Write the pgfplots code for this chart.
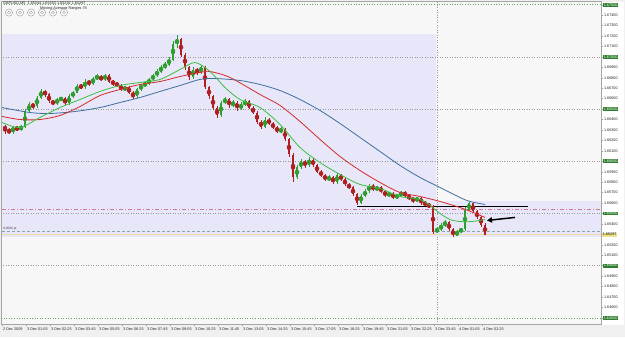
\documentclass[border=0pt]{standalone}
\usepackage{pgfplots}
\pgfplotsset{compat=1.18}
\usepackage{pgfplotstable}
\usepackage{fontspec}
\setmainfont{Liberation Sans}
\usetikzlibrary{arrows.meta}
\definecolor{bull}{HTML}{2E9E2E}
\definecolor{bear}{HTML}{B02020}
\definecolor{maG}{HTML}{3DBE3D}
\definecolor{maR}{HTML}{D42A2A}
\definecolor{maB}{HTML}{3E6E9E}
\definecolor{lav}{HTML}{E7E7F9}
\definecolor{chartbg}{HTML}{F7F7F7}
\definecolor{lblgreen}{HTML}{2F7D2F}
\definecolor{pinkline}{HTML}{D07A96}
\definecolor{tealline}{HTML}{8AA8A8}
\definecolor{bidline}{HTML}{E9DCA6}

% candles: x position, open, high, low, close (price in pips above 1.6000)
\pgfplotstableread{
x o h l c
5 633.3 635.0 626.0 630.5
9 630.5 631.5 625.8 627.6
13 627.6 634.0 626.5 632.4
17 632.4 633.5 629.0 630.5
21 630.5 635.0 629.0 633.3
25 633.3 650.0 632.0 647.7
29 647.7 656.5 646.0 654.4
33 654.4 656.0 650.5 652.5
37 652.5 663.0 651.5 661.1
41 661.1 669.0 660.0 666.9
45 666.9 668.5 662.0 664.0
49 664.0 665.0 655.5 657.3
53 657.3 659.0 653.5 655.4
57 655.4 661.0 654.0 659.2
61 659.2 662.0 657.5 660.2
65 660.2 661.5 653.5 655.4
69 655.4 664.0 654.0 662.1
73 662.1 667.5 661.0 665.9
77 665.9 674.5 665.0 672.6
81 672.6 674.0 669.0 670.7
85 670.7 678.5 669.5 676.4
89 676.4 678.0 672.5 674.5
93 674.5 681.0 673.5 679.3
97 679.3 683.5 678.0 681.2
101 681.2 682.5 676.5 678.4
105 678.4 684.0 677.0 682.2
109 682.2 683.5 675.0 676.4
113 676.4 678.0 672.5 674.5
117 674.5 676.0 671.0 672.6
121 672.6 674.0 667.0 668.8
125 668.8 672.5 667.0 670.7
129 670.7 672.0 664.0 665.9
133 665.9 667.0 659.5 662.1
137 662.1 670.5 661.0 668.8
141 668.8 674.5 667.5 672.6
145 672.6 676.5 671.0 674.5
149 674.5 680.0 673.0 678.4
153 678.4 684.0 677.0 682.2
157 682.2 688.0 681.0 686.0
161 686.0 692.0 685.0 689.9
165 689.9 695.0 688.5 692.7
169 692.7 700.0 691.5 697.5
173 697.5 715.0 696.5 711.9
177 711.9 721.0 709.0 716.7
181 716.7 718.0 700.0 702.3
185 702.3 704.0 687.5 689.9
189 689.9 691.0 678.0 680.3
193 680.3 690.0 679.0 687.9
197 687.9 689.5 683.0 685.1
201 685.1 692.5 683.5 689.9
205 689.9 691.0 669.0 670.7
209 670.7 672.0 660.0 662.1
213 662.1 663.5 649.0 651.5
217 651.5 653.0 641.0 643.9
221 643.9 658.0 642.5 656.3
225 656.3 661.5 655.0 659.2
229 659.2 660.5 651.5 653.5
233 653.5 658.5 652.0 656.3
237 656.3 657.5 648.5 650.6
241 650.6 656.5 649.0 654.4
245 654.4 659.5 653.0 657.3
249 657.3 658.5 650.0 651.5
253 651.5 653.0 645.0 646.7
257 646.7 648.0 636.0 638.1
261 638.1 639.5 631.0 633.3
265 633.3 642.0 632.0 640.0
269 640.0 641.5 634.5 636.2
273 636.2 637.5 630.5 632.4
277 632.4 634.0 627.0 628.5
281 628.5 632.5 627.0 630.5
285 630.5 632.0 619.0 620.9
289 620.9 622.0 604.0 606.5
293 606.5 608.0 580.0 584.5
297 584.5 596.5 583.0 594.1
301 594.1 602.0 592.5 599.8
305 599.8 601.5 594.0 596.0
309 596.0 604.0 595.0 601.7
313 601.7 603.0 594.5 596.0
317 596.0 597.0 588.5 590.2
321 590.2 592.0 584.5 586.4
325 586.4 588.0 581.0 582.6
329 582.6 586.5 581.0 584.5
333 584.5 586.0 578.0 579.7
337 579.7 588.5 578.5 586.4
341 586.4 588.0 581.0 582.6
345 582.6 584.0 576.0 577.8
349 577.8 579.0 573.0 574.9
353 574.9 576.0 566.5 568.2
357 568.2 569.5 558.5 560.5
361 560.5 569.0 559.5 567.2
365 567.2 573.0 566.0 571.1
369 571.1 578.5 570.0 576.8
373 576.8 578.0 571.5 573.0
377 573.0 576.5 571.5 574.9
381 574.9 576.0 569.5 571.1
385 571.1 572.5 565.5 567.2
389 567.2 571.0 566.0 569.1
393 569.1 570.5 563.5 565.3
397 565.3 569.0 564.0 567.2
401 567.2 572.0 566.0 570.1
405 570.1 571.5 565.5 567.2
409 567.2 568.5 562.5 564.4
413 564.4 566.0 560.5 562.4
417 562.4 566.0 561.0 564.4
421 564.4 565.5 558.5 560.5
425 560.5 562.0 557.0 558.6
429 558.6 560.0 555.0 556.7
433 556.7 558.0 530.5 532.7
437 532.7 537.0 531.0 534.7
441 534.7 540.5 533.5 538.5
445 538.5 543.5 537.5 541.4
449 541.4 542.5 533.0 534.7
453 534.7 536.0 527.0 528.9
457 528.9 534.5 528.0 532.7
461 532.7 536.5 531.5 534.7
465 534.7 556.0 533.5 553.8
469 553.8 561.0 552.5 559.6
473 559.6 560.5 550.0 551.9
477 551.9 553.0 544.5 546.2
481 546.2 547.5 537.5 539.4
485 539.4 540.5 529.2 529.7
}\candles

\begin{document}
\begin{tikzpicture}[x=1bp,y=1bp]
\useasboundingbox (0,0) rectangle (625,337);
\fill[gray!12] (0,0) rectangle (625,337);
\fill[white] (601,12) rectangle (624,335);
\begin{axis}[
  at={(1,12)}, anchor=south west,
  scale only axis, width=600bp, height=323bp,
  xmin=1, xmax=601, ymin=443.65, ymax=753.1,
  axis background/.style={fill=chartbg},
  axis line style={draw=gray!70},
  clip mode=individual,
  /pgf/number format/assume math mode=true,
  tick align=outside,
  major tick length=2bp,
  every tick/.style={gray!70},
  xtick pos=bottom,
  ytick pos=right,
  yticklabel pos=right,
  xtick={2,26,...,482},
  xticklabels={2 Dec 2009, 3 Dec 01:05, 3 Dec 02:25, 3 Dec 03:45, 3 Dec 05:05, 3 Dec 06:25, 3 Dec 07:45, 3 Dec 09:05, 3 Dec 10:25, 3 Dec 11:45, 3 Dec 13:05, 3 Dec 14:25, 3 Dec 15:45, 3 Dec 17:05, 3 Dec 18:25, 3 Dec 19:45, 3 Dec 21:05, 3 Dec 22:25, 3 Dec 23:45, 4 Dec 01:05, 4 Dec 02:25},
  xticklabel style={anchor=north west, font=\fontsize{3.8}{4.5}\selectfont, text=gray!30!black, inner sep=0.8bp, xshift=0.2bp},
  ytick={460,470,480,490,510,520,540,560,570,580,590,610,620,630,640,660,670,680,690,710,720,730,740},
  yticklabel={1.6\pgfmathprintnumber[fixed,precision=0,1000 sep={}]{\tick}0},
  yticklabel style={font=\fontsize{3.8}{4.5}\selectfont, text=gray!30!black, inner sep=0.8bp},
  extra y ticks={450,500,550,600,650,700,750},
  extra y tick labels={1.64500,1.65000,1.65500,1.66000,1.66500,1.67000,1.67500},
  extra y tick style={yticklabel style={fill=lblgreen, text=white, inner sep=0.6bp, font=\fontsize{3.8}{4.5}\selectfont}},
]
% highlighted range boxes
\fill[lav] (axis cs:2,527) rectangle (axis cs:436,721.5);
\fill[lav] (axis cs:436,527) rectangle (axis cs:601,561.5);
% level lines
\pgfplotsinvokeforeach{500,550,600,650,700}{
  \draw[gray!80, dotted, line width=0.5bp] (axis cs:1,#1) -- (axis cs:601,#1);
}
\draw[lblgreen!70, dotted, line width=0.6bp] (axis cs:1,750) -- (axis cs:601,750);
\draw[lblgreen!70, dotted, line width=0.6bp] (axis cs:1,450) -- (axis cs:601,450);
\draw[gray!80, dotted, line width=0.5bp] (axis cs:437,443.65) -- (axis cs:437,753.1);
\draw[pinkline, line width=0.5bp, dash pattern=on 4bp off 2bp on 1bp off 2bp] (axis cs:2,553.8) -- (axis cs:601,553.8);
\draw[tealline, line width=0.5bp, dash pattern=on 3bp off 2bp] (axis cs:2,532.7) -- (axis cs:601,532.7);
\draw[bidline, line width=1.2bp] (axis cs:2,529.7) -- (axis cs:601,529.7);
\draw[black, line width=0.8bp] (axis cs:357,556.7) -- (axis cs:528,556.7);

% candle wicks
\addplot[bull, only marks, mark=none, forget plot,
  error bars/.cd, y dir=both, y explicit, error mark=none,
  error bar style={line width=0.5bp}]
  table[x=x, y expr={\thisrow{c}<\thisrow{o} ? nan : (\thisrow{h}+\thisrow{l})/2},
        y error expr={(\thisrow{h}-\thisrow{l})/2}]{\candles};
\addplot[bear, only marks, mark=none, forget plot,
  error bars/.cd, y dir=both, y explicit, error mark=none,
  error bar style={line width=0.5bp}]
  table[x=x, y expr={\thisrow{c}<\thisrow{o} ? (\thisrow{h}+\thisrow{l})/2 : nan},
        y error expr={(\thisrow{h}-\thisrow{l})/2}]{\candles};
% candle bodies
\addplot[bull, only marks, mark=none, forget plot,
  error bars/.cd, y dir=both, y explicit, error mark=none,
  error bar style={line width=1.7bp}]
  table[x=x, y expr={\thisrow{c}<\thisrow{o} ? nan : (\thisrow{o}+\thisrow{c})/2},
        y error expr={abs(\thisrow{c}-\thisrow{o})/2}]{\candles};
\addplot[bear, only marks, mark=none, forget plot,
  error bars/.cd, y dir=both, y explicit, error mark=none,
  error bar style={line width=1.7bp}]
  table[x=x, y expr={\thisrow{c}<\thisrow{o} ? (\thisrow{o}+\thisrow{c})/2 : nan},
        y error expr={abs(\thisrow{c}-\thisrow{o})/2}]{\candles};

% moving averages
\addplot[maB, line width=0.8bp, smooth, mark=none] coordinates {
(2,651.5) (30,646.7) (50,645.8) (75,647.7) (100,651.5) (120,656.3) (140,661.1)
(160,666.9) (180,672.6) (200,678.4) (215,679.3) (240,677.4) (260,673.6) (280,667.8)
(300,659.2) (320,648.7) (340,636.2) (360,622.8) (380,609.4) (400,596.0) (420,584.5)
(440,574.9) (460,565.3) (470,561.5) (485,558.6)};
\addplot[maR, line width=0.8bp, smooth, mark=none] coordinates {
(2,643.0) (20,640.0) (40,640.0) (60,643.9) (80,652.5) (100,663.0) (120,668.8)
(140,673.6) (160,676.4) (180,681.2) (200,685.1) (210,686.0) (230,680.3) (260,664.0)
(280,653.5) (300,638.1) (320,620.9) (340,604.6) (360,591.2) (380,579.7) (400,570.1)
(420,566.3) (440,561.5) (460,555.7) (473,551.0) (485,546.2)};
\addplot[maG, line width=0.8bp, smooth, mark=none] coordinates {
(2,637.2) (20,632.4) (40,642.0) (60,651.5) (80,659.2) (100,666.9) (120,672.6)
(140,675.5) (160,678.4) (180,687.9) (195,694.6) (210,686.0) (225,670.7) (240,659.2)
(260,651.5) (280,635.3) (300,613.2) (320,598.8) (340,587.4) (360,577.8) (380,573.9)
(400,566.3) (420,563.4) (430,557.7) (440,550.0) (450,544.2) (460,542.3) (472,542.3) (485,544.2)};

% arrow annotation
\draw[black, line width=1.5bp, -{Triangle[length=5bp,width=5.5bp]}] (axis cs:515,546.2) -- (axis cs:487,543.3);

% header texts and buttons
\node[anchor=north west, inner sep=0pt, font=\fontsize{3.8}{4.5}\selectfont, text=gray!30!black] at (axis cs:3,752.5) {GBPUSD,M5\ \ 1.65344 1.65353 1.65292 1.65297};
\node[anchor=north west, inner sep=0pt, font=\fontsize{3.8}{4.5}\selectfont, text=gray!30!black] at (axis cs:40,748.2) {Moving Average Ranges 78};
\pgfplotsinvokeforeach{9,20,31,42,53,64}{
  \draw[gray!70, fill=white, line width=0.5bp] (axis cs:#1,742.5) circle[radius=3.6bp];
  \draw[gray!70, line width=0.5bp] (axis cs:#1,742.5) circle[radius=1.6bp];
}
\node[anchor=west, inner sep=0pt, font=\fontsize{3.2}{4}\selectfont, text=gray!50!black] at (axis cs:3,535.5) {0.0000 pt};
% current price label
\node[anchor=west, inner sep=0.6bp, fill={rgb,255:red,236;green,226;blue,140}, font=\fontsize{3.8}{4.5}\selectfont] at (axis cs:602,529.7) {1.65297};
\end{axis}
\end{tikzpicture}
\end{document}
